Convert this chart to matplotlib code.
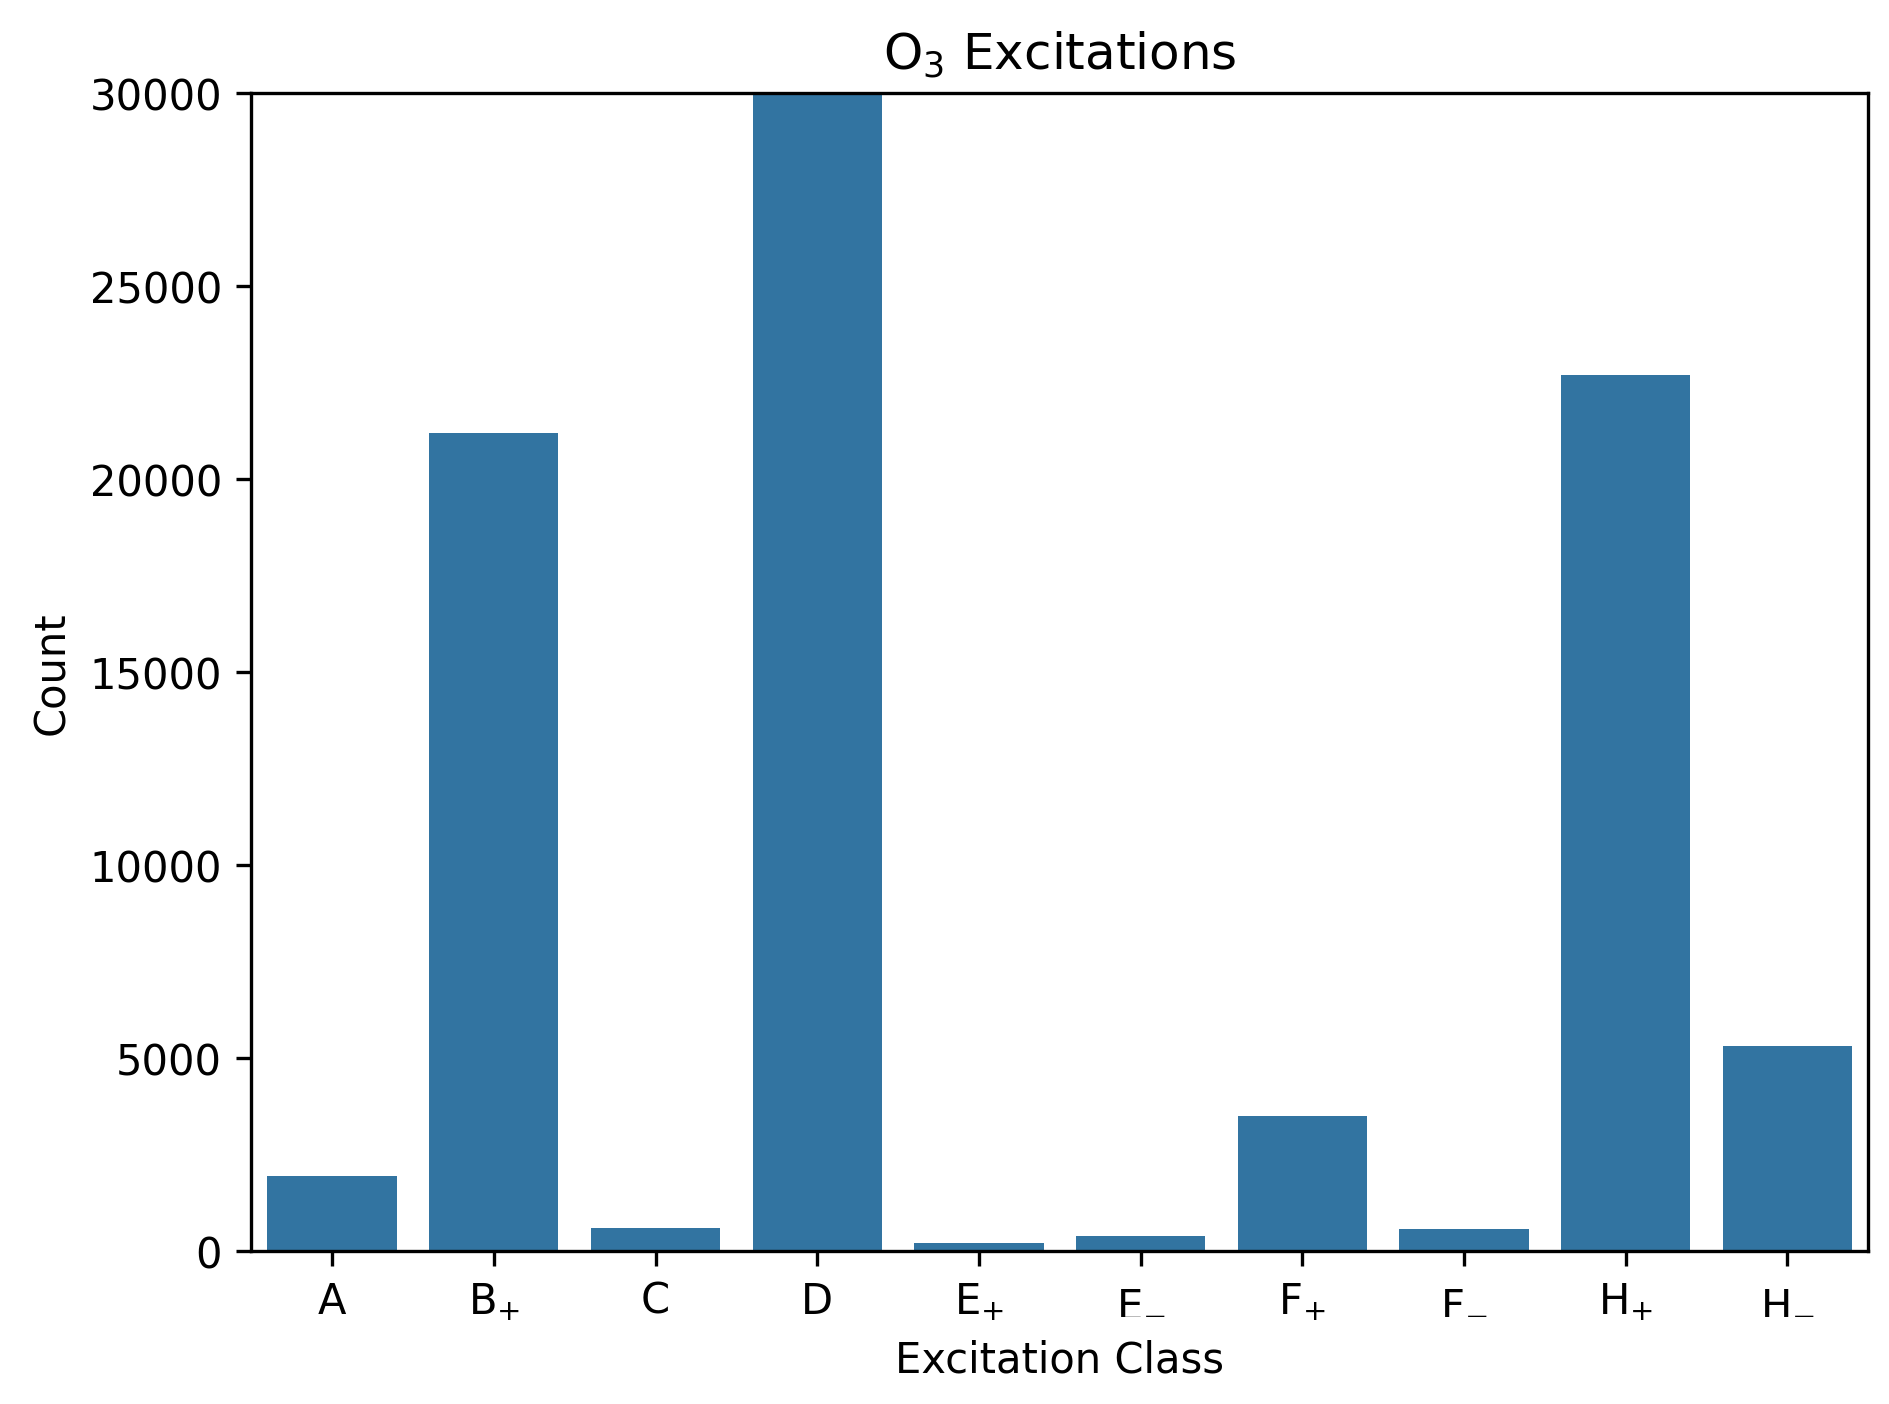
import matplotlib
matplotlib.use('Agg')
import matplotlib.pyplot as plt
import seaborn as sns
import pandas as pd

# excitation classes and their counts (D runs past the top of the axis)
classes = ['A', r'B$_{+}$', 'C', 'D', r'E$_{+}$', r'E$_{-}$', r'F$_{+}$', r'F$_{-}$', r'H$_{+}$', r'H$_{-}$']
counts = [1950, 21200, 580, 32000, 200, 380, 3500, 560, 22700, 5300]

df = pd.DataFrame({'Excitation Class': classes, 'Count': counts})

fig, ax = plt.subplots(figsize=(6.297, 4.683), dpi=300)
sns.barplot(data=df, x='Excitation Class', y='Count', color='#1f77b4', ax=ax)
ax.set_ylim(0, 30000)
ax.set_title(r'O$_3$ Excitations')
fig.subplots_adjust(left=0.133, right=0.989, top=0.933, bottom=0.109)
fig.savefig('out.png', dpi=300)
